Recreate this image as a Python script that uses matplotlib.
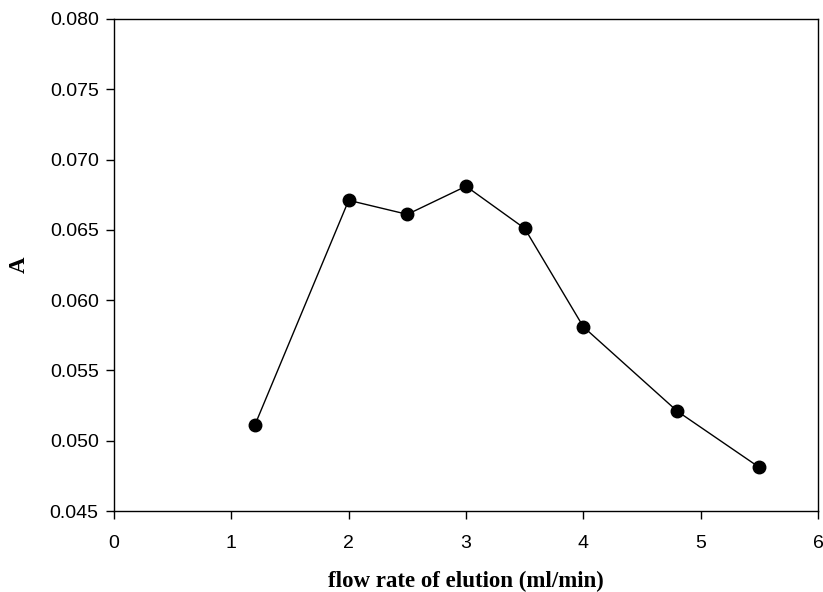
import matplotlib
matplotlib.use("Agg")
import matplotlib.pyplot as plt

# Absorbance versus elution flow rate
flow_rate = [1.2, 2.0, 2.5, 3.0, 3.5, 4.0, 4.8, 5.5]
absorbance = [0.0511, 0.0671, 0.0661, 0.0681, 0.0651, 0.0581, 0.0521, 0.0481]

x_ticks = [0, 1, 2, 3, 4, 5, 6]
y_ticks = [0.045, 0.050, 0.055, 0.060, 0.065, 0.070, 0.075, 0.080]

fig = plt.figure(figsize=(8.23, 5.92), dpi=100)
ax = fig.add_axes([0.1385, 0.1368, 0.8555, 0.8312])

ax.plot(flow_rate, absorbance, color="black", linewidth=1.0,
        marker="o", markersize=9, markerfacecolor="black",
        markeredgecolor="black")

ax.set_xlim(0, 6)
ax.set_ylim(0.045, 0.080)
ax.set_xticks(x_ticks)
ax.set_yticks(y_ticks)
ax.set_xticklabels([str(t) for t in x_ticks])
ax.set_yticklabels([f"{t:.3f}" for t in y_ticks])

for lbl in ax.get_xticklabels() + ax.get_yticklabels():
    lbl.set_fontfamily("Liberation Sans")
    lbl.set_fontsize(14)

ax.tick_params(axis="both", direction="out", length=6, width=1.0, colors="black")
ax.tick_params(axis="x", pad=11)
ax.tick_params(axis="y", pad=5)
for side in ax.spines.values():
    side.set_linewidth(1.0)
    side.set_color("black")

ax.set_xlabel("flow rate of elution (ml/min)", fontfamily="Liberation Serif",
              fontweight="bold", fontsize=16.5, va="center")
ax.set_ylabel("A", fontfamily="Liberation Serif", fontweight="bold",
              fontsize=16.5, va="center")
ax.xaxis.set_label_coords(0.5, -0.144)
ax.yaxis.set_label_coords(-0.135, 0.5)

fig.savefig("out.png", dpi=100)
